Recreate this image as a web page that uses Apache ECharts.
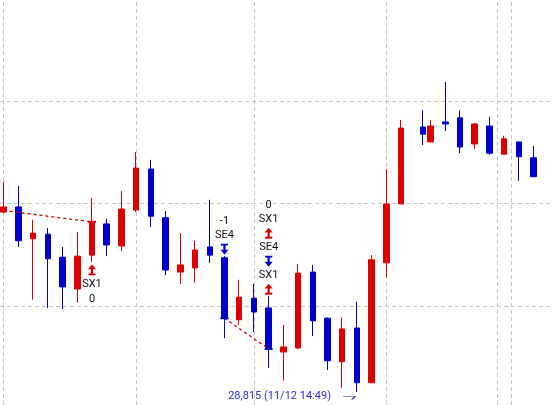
<!DOCTYPE html>
<html><head><meta charset="utf-8">
<script src="https://cdn.jsdelivr.net/npm/echarts@6/dist/echarts.min.js"></script>
<style>html,body{margin:0;padding:0;background:#fff;overflow:hidden}#c{width:552px;height:405px}</style>
</head><body><div id="c"></div>
<script>
// ---------- data ----------
const sessionDate = '11/12';
const candleTimes = ['14:25:00','14:26:00','14:27:00','14:28:00','14:29:00','14:30:00','14:31:00','14:32:00','14:33:00','14:34:00',
  '14:35:00','14:36:00','14:37:00','14:38:00','14:39:00','14:40:00','14:41:00','14:42:00','14:43:00','14:44:00',
  '14:45:00','14:46:00','14:47:00','14:48:00','14:49:00','14:50:00','14:51:00','14:52:00','14:53:30','14:54:00',
  '14:55:00','14:56:00','14:57:00','14:58:00','14:59:00','15:00:00','15:01:00'];
const opens  = [28850.1,28851.1,28844.9,28845.8,28841.3,28835.1,28841.7,28847.8,28843.5,28850.5,
  28858.5,28849.0,28838.4,28839.2,28843.3,28841.2,28829.1,28833.3,28831.4,28822.8,
  28823.6,28838.4,28829.4,28820.9,28827.5,28816.8,28840.2,28851.7,28866.7,28863.8,
  28867.7,28868.5,28863.4,28866.9,28861.4,28863.8,28860.7];
const closes = [28851.1,28844.5,28846.0,28841.0,28835.5,28841.5,28848.0,28843.7,28850.7,28858.7,
  28849.3,28838.8,28839.8,28842.7,28841.7,28829.4,28833.5,28830.6,28823.4,28823.8,
  28838.2,28828.9,28821.1,28827.3,28816.8,28840.8,28851.7,28866.5,28865.3,28866.9,
  28867.3,28862.8,28867.3,28861.6,28864.4,28860.9,28857.0];
const lows   = [28849.9,28843.3,28833.0,28831.4,28831.2,28832.4,28840.4,28841.5,28842.5,28850.1,
  28847.2,28837.8,28836.1,28836.3,28840.2,28825.5,28828.1,28826.7,28819.7,28817.2,
  28823.4,28825.9,28819.3,28815.8,28815.0,28816.8,28837.4,28851.7,28863.2,28863.8,
  28865.9,28861.6,28862.4,28861.3,28861.4,28856.2,28857.0];
const highs  = [28856.0,28855.2,28848.6,28847.0,28843.3,28846.2,28852.9,28848.8,28854.2,28861.8,
  28860.3,28850.3,28846.0,28844.5,28852.5,28841.5,28836.9,28836.1,28833.7,28828.1,
  28840.0,28839.8,28829.6,28829.6,28832.6,28841.7,28858.5,28868.1,28870.0,28868.1,
  28875.5,28870.0,28867.5,28868.7,28865.0,28863.8,28863.0];
const gridPrices = [28831.8, 28851.8, 28871.8];
const gridTimes = ['14:25:00','14:34:00','14:42:00','14:51:00','14:58:30','14:59:30'];
const tradeFromTimes  = ['14:25:00','14:40:00'];
const tradeFromPrices = [28850.4, 28829.4];
const tradeToTimes    = ['14:31:00','14:43:00'];
const tradeToPrices   = [28848.2, 28823.4];
const signalTimes = ['14:31:00','14:40:00','14:43:00'];
const signalSides = ['below','above','above'];
const signalItems = [['up','SX1','0'], ['-1','SE4','down'], ['0','SX1','up','SE4','down','SX1','up']];
const yMin = 28812.46, yMax = 28891.49;

// ---------- build ----------
const RED = '#dd0000', BLUE = '#0000cc';
function toSec(t){const p=t.split(':').map(Number);return p[0]*3600+p[1]*60+(p[2]||0);}
const startSec = toSec('14:25:00'), slotCount = 75;
const categories = [];
for (let k=0;k<slotCount;k++){const s=startSec+30*k;const h=Math.floor(s/3600),m=Math.floor(s%3600/60),ss=s%60;
  categories.push(String(h).padStart(2,'0')+':'+String(m).padStart(2,'0')+':'+String(ss).padStart(2,'0'));}
const slotOf = t => categories.indexOf(t);
const candleData = categories.map(()=>['-','-','-','-']);
candleTimes.forEach((t,i)=>{candleData[slotOf(t)] = [opens[i], closes[i], lows[i], highs[i]];});

const UP_ARROW = 'path://M4,0 L8,4.4 L5.1,4.4 L5.1,8.3 L7.6,8.3 L7.6,10 L0.4,10 L0.4,8.3 L2.9,8.3 L2.9,4.4 L0,4.4 Z';
const DOWN_ARROW = 'path://M0.4,0 L7.6,0 L7.6,1.7 L5.1,1.7 L5.1,5.6 L8,5.6 L4,10 L0,5.6 L2.9,5.6 L2.9,1.7 L0.4,1.7 Z';
const textStyle = {color:'#111', fontSize:11, fontFamily:'Roboto, sans-serif'};

const markPoints = [];
signalTimes.forEach((t,g)=>{
  const i = candleTimes.indexOf(t), items = signalItems[g], n = items.length;
  const above = signalSides[g]==='above';
  const anchor = above ? highs[i] : lows[i];
  items.forEach((it,k)=>{
    const off = above ? -(7 + 14*(n-1-k)) : (8 + 14.5*k);
    if (it==='up' || it==='down'){
      markPoints.push({coord:[slotOf(t), anchor], symbol: it==='up'?UP_ARROW:DOWN_ARROW, symbolSize:[8,11],
        symbolOffset:[0,off], itemStyle:{color: it==='up'?RED:BLUE}, label:{show:false}});
    } else {
      markPoints.push({coord:[slotOf(t), anchor], symbol:'circle', symbolSize:0,
        label:Object.assign({show:true, formatter:it, offset:[0,off]}, textStyle)});
    }
  });
});
// lowest low label
let li = 0; lows.forEach((v,i)=>{ if (v<lows[li]) li=i; });
const lowText = lows[li].toLocaleString('en-US') + ' (' + sessionDate + ' ' + candleTimes[li].slice(0,5) + ')';
markPoints.push({coord:[slotOf(candleTimes[li]), lows[li]], symbol:'circle', symbolSize:0,
  label:{show:true, formatter:lowText, align:'right', verticalAlign:'middle', offset:[-26,4], color:'#2b2bd0', fontSize:11, fontFamily:'Roboto, sans-serif'}});
markPoints.push({coord:[slotOf(candleTimes[li]), lows[li]], symbol:'path://M0,0 L12,0 L9,3', symbolSize:[12,3],
  symbolOffset:[-8,6], itemStyle:{color:'none', borderColor:'#2b2bd0', borderWidth:1}, label:{show:false}});
// trade end ticks
[[tradeToTimes[0],tradeToPrices[0],RED],[tradeFromTimes[1],tradeFromPrices[1],BLUE],[tradeToTimes[1],tradeToPrices[1],BLUE]].forEach(d=>{
  markPoints.push({coord:[slotOf(d[0]), d[1]], symbol:'rect', symbolSize:[8,2], itemStyle:{color:d[2]}, label:{show:false}});
});

const gridStyle = {color:'#c4c4c4', width:1, type:[4,3]};
const gridLines = gridPrices.map(p=>({yAxis:p, lineStyle:gridStyle}))
  .concat(gridTimes.map(t=>({xAxis:slotOf(t), lineStyle:gridStyle})));
const tradeLines = tradeFromTimes.map((t,j)=>[
  {coord:[slotOf(t), tradeFromPrices[j]]},
  {coord:[slotOf(tradeToTimes[j]), tradeToPrices[j]]}
]);

const chart = echarts.init(document.getElementById('c'), null, {renderer:'canvas'});
chart.setOption({
  animation:false,
  grid:{left:-3.9, top:0, width:557.5, height:405},
  xAxis:{type:'category', data:categories, boundaryGap:true, show:false},
  yAxis:{type:'value', min:yMin, max:yMax, show:false},
  series:[
    {type:'line', data:[], z:0, silent:true,
     markLine:{z:0, silent:true, symbol:'none', animation:false, label:{show:false}, data:gridLines}},
    {type:'candlestick', data:candleData, barWidth:6, z:2, silent:true,
     itemStyle:{color:RED, color0:BLUE, borderColor:RED, borderColor0:BLUE, borderWidth:1},
     markLine:{z:5, silent:true, symbol:'none', animation:false, label:{show:false},
       lineStyle:{color:RED, width:1.3, type:[3,3]}, data:tradeLines},
     markPoint:{z:6, silent:true, animation:false, data:markPoints}}
  ]
});
</script></body></html>
